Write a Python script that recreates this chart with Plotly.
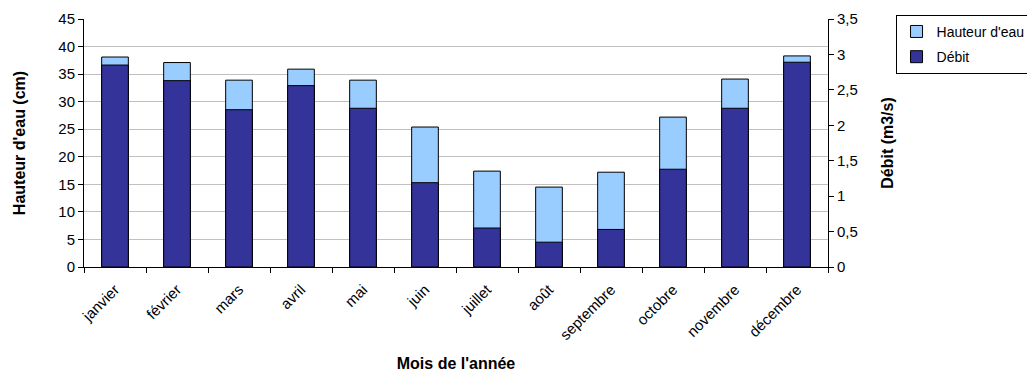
import plotly.graph_objects as go

mois = ["janvier", "février", "mars", "avril", "mai", "juin", "juillet",
        "août", "septembre", "octobre", "novembre", "décembre"]
hauteur_cm = [38.1, 37.1, 33.9, 35.9, 33.9, 25.4, 17.4, 14.5, 17.2, 27.2, 34.1, 38.3]
debit_m3s = [2.85, 2.63, 2.22, 2.56, 2.24, 1.19, 0.55, 0.35, 0.53, 1.38, 2.24, 2.89]

FONT = "Liberation Sans, Arial, sans-serif"

fig = go.Figure()
fig.add_trace(go.Bar(
    x=mois, y=hauteur_cm, name="Hauteur d'eau", yaxis="y",
    legendgroup="h",
    marker=dict(color="#99CCFF", line=dict(color="#000000", width=1)),
    width=0.43,
))
fig.add_trace(go.Bar(
    x=mois, y=debit_m3s, name="Débit", yaxis="y2",
    legendgroup="d",
    marker=dict(color="#333399", line=dict(color="#000000", width=1)),
    width=0.43,
))

fig.update_layout(
    width=1027, height=372,
    margin=dict(l=84, r=199, t=19, b=105, autoexpand=False),
    paper_bgcolor="white", plot_bgcolor="white",
    barmode="overlay",
    separators=", ",
    font=dict(family=FONT, size=15, color="#000000"),
    showlegend=True,
    legend=dict(
        xref="container", yref="container",
        x=0.872, y=0.96, xanchor="left", yanchor="top",
        bordercolor="#000000", borderwidth=1, bgcolor="white",
        font=dict(size=14), traceorder="grouped",
        itemwidth=30, tracegroupgap=4,
    ),
    xaxis=dict(
        type="category", tickangle=-45, tickson="boundaries",
        ticks="outside", ticklen=5, tickcolor="#000000",
        tickfont=dict(size=15), automargin=False,
        ticklabelstandoff=7,
        showline=True, linecolor="#000000", linewidth=1,
        showgrid=False,
        title=dict(text="<b>Mois de l'année</b>", standoff=15,
                   font=dict(size=16)),
    ),
    yaxis=dict(
        range=[0, 45], dtick=5, tick0=0,
        ticks="outside", ticklen=5, tickcolor="#000000",
        automargin=False,
        showline=True, linecolor="#000000", linewidth=1,
        showgrid=True, gridcolor="#C0C0C0", gridwidth=1,
        zeroline=False,
        title=dict(text="<b>Hauteur d'eau (cm)</b>", standoff=28,
                   font=dict(size=16)),
    ),
    yaxis2=dict(
        range=[0, 3.5], dtick=0.5, tick0=0,
        overlaying="y", side="right", automargin=False,
        ticks="outside", ticklen=5, tickcolor="#000000",
        showline=True, linecolor="#000000", linewidth=1,
        showgrid=False, zeroline=False,
        title=dict(text="<b>Débit (m3/s)</b>", standoff=30,
                   font=dict(size=16)),
    ),
    # inner half of the right-hand tick marks
    yaxis3=dict(
        range=[0, 3.5], dtick=0.5, tick0=0,
        overlaying="y", side="right", automargin=False,
        ticks="inside", ticklen=5, tickcolor="#000000",
        showticklabels=False, showline=False,
        showgrid=False, zeroline=False,
    ),
)

fig.write_html("out.html")
